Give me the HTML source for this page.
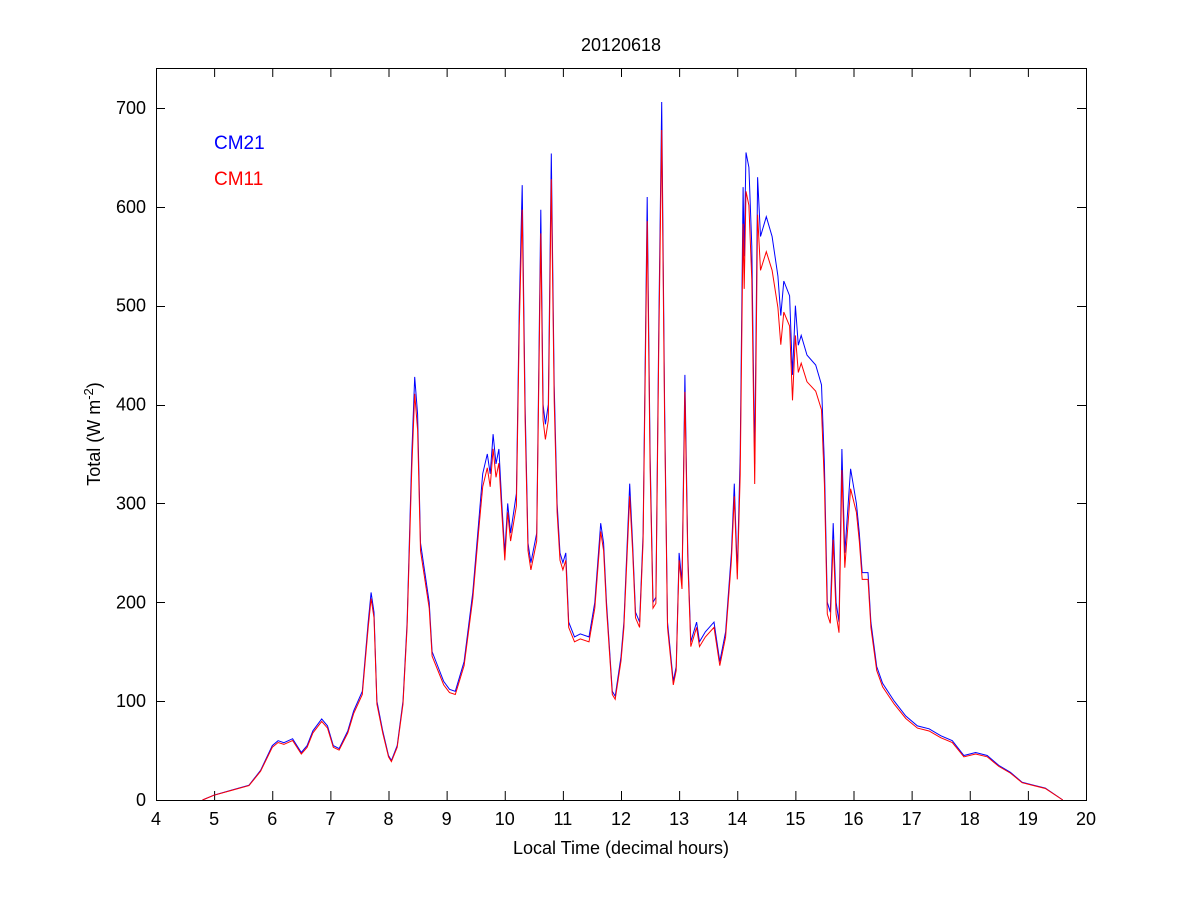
<!DOCTYPE html>
<html><head><meta charset="utf-8"><style>
html,body{margin:0;padding:0;background:#fff;}
svg{display:block;font-family:"Liberation Sans",Arial,sans-serif;}
</style></head><body>
<svg id="s" width="1200" height="900" xmlns="http://www.w3.org/2000/svg">
<rect x="0" y="0" width="1200" height="900" fill="#fff"/>
<g id="ticks" stroke="#000" stroke-width="1"></g>
<g id="lab" font-size="18" fill="#000"></g>
<polyline id="b" fill="none" stroke="#0000ff" stroke-width="1"/>
<polyline id="r" fill="none" stroke="#ff0000" stroke-width="1"/>
<rect x="156.5" y="68.5" width="930" height="732" fill="none" stroke="#000" stroke-width="1"/>
<text x="621" y="51" font-size="18" text-anchor="middle">20120618</text>
<text x="621" y="854" font-size="18" text-anchor="middle">Local Time (decimal hours)</text>
<text transform="translate(100,434) rotate(-90)" font-size="18" text-anchor="middle">Total (W m<tspan dy="-7" font-size="13">-2</tspan><tspan dy="7">)</tspan></text>
<text x="214" y="149" font-size="19" fill="#0000ff">CM21</text>
<text x="214" y="185" font-size="19" fill="#ff0000">CM11</text>
</svg>
<script>
var X=function(h){return 156+(h-4)*58.125},Y=function(v){return 800-v*0.9886};
var t=document.getElementById('ticks'),l=document.getElementById('lab'),ns="http://www.w3.org/2000/svg";
function el(p,n,a,txt){var e=document.createElementNS(ns,n);for(var k in a)e.setAttribute(k,a[k]);if(txt)e.textContent=txt;p.appendChild(e);}
for(var h=4;h<=20;h++){var x=X(h)+0.5;el(t,'line',{x1:x,x2:x,y1:800,y2:791});el(t,'line',{x1:x,x2:x,y1:68,y2:77});el(l,'text',{x:X(h),y:825,'text-anchor':'middle'},''+h);}
for(var v=0;v<=700;v+=100){var y=Math.round(Y(v))+0.5;el(t,'line',{x1:156,x2:165,y1:y,y2:y});el(t,'line',{x1:1086,x2:1077,y1:y,y2:y});el(l,'text',{x:146,y:Y(v)+6,'text-anchor':'end'},''+v);}
var d=[4.8,0,5.0,5,5.3,10,5.6,15,5.8,30,6.0,55,6.1,60,6.2,58,6.35,62,6.5,48,6.6,55,6.7,70,6.85,82,6.95,75,7.05,55,7.15,52,7.3,70,7.4,90,7.55,110,7.65,180,7.7,210,7.75,190,7.8,100,7.9,70,8.0,45,8.05,40,8.15,55,8.25,100,8.32,180,8.4,350,8.45,428,8.5,390,8.55,260,8.6,240,8.65,220,8.7,200,8.75,150,8.85,135,8.95,120,9.05,112,9.15,110,9.3,140,9.45,210,9.55,280,9.62,330,9.7,350,9.75,330,9.8,370,9.85,340,9.9,355,9.95,300,10.0,250,10.05,300,10.1,270,10.2,310,10.25,500,10.3,622,10.35,400,10.4,260,10.45,240,10.55,270,10.62,597,10.66,400,10.7,380,10.75,400,10.8,654,10.85,420,10.9,300,10.95,250,11.0,240,11.05,250,11.1,180,11.2,165,11.3,168,11.45,165,11.55,200,11.65,280,11.7,260,11.75,200,11.85,110,11.9,105,12.0,145,12.05,180,12.15,320,12.2,260,12.25,190,12.32,180,12.38,270,12.45,610,12.5,350,12.55,200,12.6,205,12.65,480,12.7,706,12.75,400,12.8,180,12.9,120,12.95,135,13.0,250,13.05,220,13.1,430,13.15,250,13.2,160,13.3,180,13.35,160,13.45,170,13.6,180,13.7,140,13.8,170,13.9,250,13.95,320,14.0,230,14.05,350,14.1,620,14.12,550,14.15,655,14.2,640,14.25,560,14.3,340,14.35,630,14.4,570,14.5,590,14.6,570,14.7,530,14.75,490,14.8,525,14.9,510,14.95,430,15.0,500,15.05,460,15.1,470,15.2,450,15.35,440,15.45,420,15.5,340,15.55,200,15.6,190,15.65,280,15.7,200,15.75,180,15.8,355,15.85,250,15.95,335,16.05,300,16.1,270,16.15,230,16.25,230,16.3,180,16.4,135,16.5,118,16.7,100,16.9,85,17.1,75,17.3,72,17.5,65,17.7,60,17.9,45,18.1,48,18.3,45,18.5,35,18.7,28,18.9,18,19.1,15,19.3,12,19.6,0];
var pb=[],pr=[];
for(var i=0;i<d.length;i+=2){var h=d[i],v=d[i+1];var f=(h>14&&h<16)?0.94:(v>300?0.96:0.97);
pb.push(X(h).toFixed(1)+','+Y(v).toFixed(1));pr.push(X(h).toFixed(1)+','+Y(v*f).toFixed(1));}
document.getElementById('b').setAttribute('points',pb.join(' '));
document.getElementById('r').setAttribute('points',pr.join(' '));
</script>
</body></html>
